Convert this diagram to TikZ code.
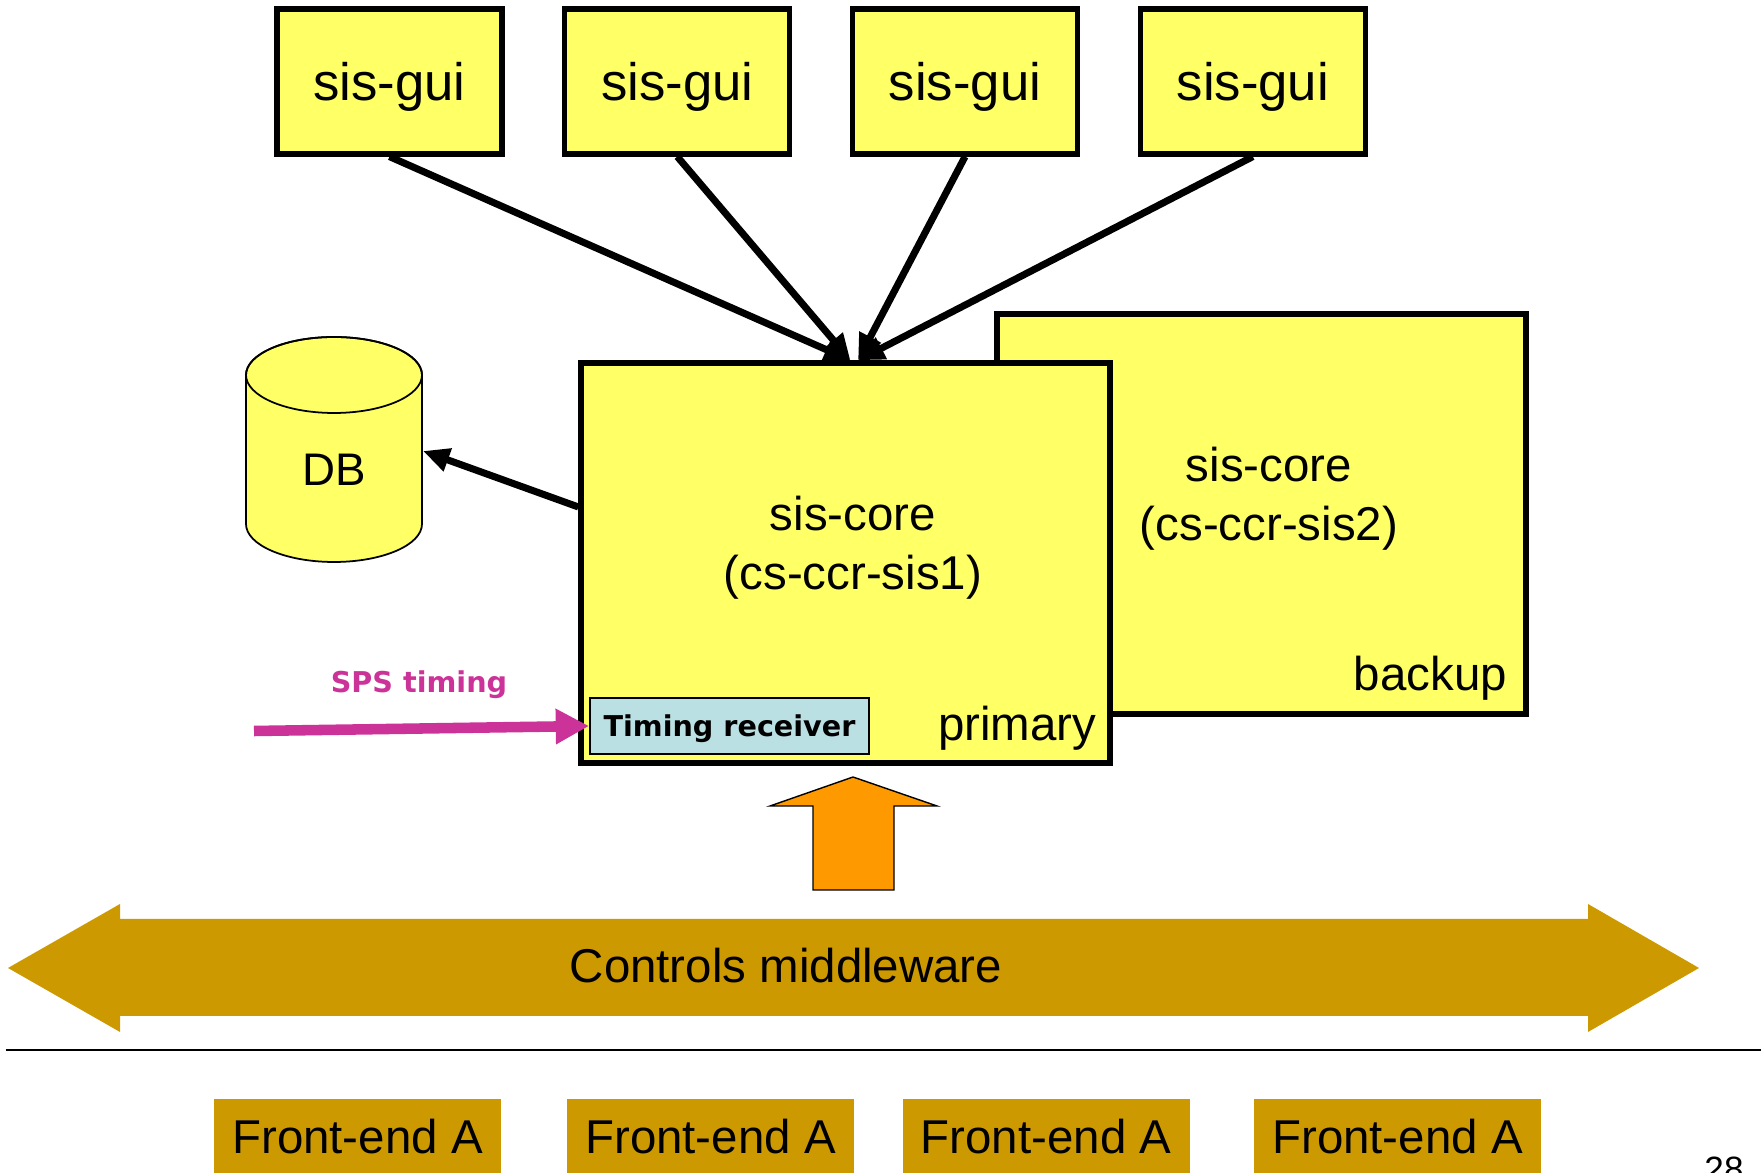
\documentclass[tikz,border=0pt]{standalone}
\usepackage{fontspec}
\setmainfont{Liberation Sans}
\newfontfamily\comicfont{DejaVu Sans}
\usetikzlibrary{positioning,calc,arrows.meta}
\definecolor{boxyellow}{RGB}{255,255,102}
\definecolor{rxblue}{RGB}{187,224,227}
\definecolor{upamber}{RGB}{255,153,0}
\definecolor{busgold}{RGB}{204,153,0}
\definecolor{spsmagenta}{RGB}{204,51,153}
\tikzset{
  gui/.style={draw,line width=3pt,fill=boxyellow,minimum width=4.5cm,minimum height=2.9cm,
    text depth=0pt,font=\fontsize{30}{36}\selectfont},
  core/.style={draw,line width=3pt,fill=boxyellow,minimum width=10.58cm,minimum height=8.0cm},
  coretext/.style={align=center,font=\fontsize{27}{33.5}\selectfont},
  frontend/.style={fill=busgold,minimum width=5.74cm,minimum height=1.5cm,
    font=\fontsize{27}{32}\selectfont},
  link/.style={line width=4pt,-{Triangle[length=15pt,width=13pt]}},
  comictext/.style={font=\comicfont\bfseries\fontsize{16.3}{20}\selectfont}
}
\begin{document}
\begin{tikzpicture}
    \useasboundingbox (0,0) rectangle (35.22,23.44);
    % GUI clients
    \node[gui] (gui1) at (7.79,21.81) {sis-gui};
    \node[gui,right=1.15cm of gui1] (gui2) {sis-gui};
    \node[gui,right=1.15cm of gui2] (gui3) {sis-gui};
    \node[gui,right=1.15cm of gui3] (gui4) {sis-gui};
    % Backup and primary servers
    \node[core] (core2) at (25.23,13.16) {};
    \node[coretext] (core2txt) at ($(core2)+(0.15,0.31)$) {sis-core\\(cs-ccr-sis2)};
    \node[anchor=base east,font=\fontsize{27}{32}\selectfont] (backuplbl) at ($(core2.south east)+(-0.31,0.52)$) {backup};
    \node[core] (core1) at (16.91,12.18) {};
    \node[coretext] (core1txt) at ($(core1)+(0.15,0.31)$) {sis-core\\(cs-ccr-sis1)};
    \node[anchor=base east,font=\fontsize{27}{32}\selectfont] (primarylbl) at ($(core1.south east)+(-0.2,0.5)$) {primary};
    \node[draw,line width=1pt,fill=rxblue,minimum width=5.58cm,minimum height=1.12cm,text depth=0pt,comictext] (timing) at (14.59,8.92) {Timing receiver};
    % GUI links
    \draw[link] (gui1.south) -- ([xshift=1mm]core1.north);
    \draw[link] (gui2.south) -- ([xshift=1mm]core1.north);
    \draw[link] (gui3.south) -- ([xshift=2.5mm]core1.north);
    \draw[link] (gui4.south) -- ([xshift=2.5mm]core1.north);
    % Database
    \draw[line width=1pt,fill=boxyellow] (4.92,15.94) -- (4.92,12.96)
        arc[start angle=180,end angle=360,x radius=1.76cm,y radius=0.76cm] -- (8.44,15.94)
        arc[start angle=0,end angle=180,x radius=1.76cm,y radius=0.76cm] -- cycle;
    \draw[line width=1pt] (6.68,15.94) ellipse[x radius=1.76cm,y radius=0.76cm];
    \node[font=\fontsize{26}{30}\selectfont] (db) at (6.68,14.04) {DB};
    \coordinate (dbside) at (8.46,14.42);
    \draw[link] ($(core1.west)+(0,1.12)$) -- (dbside);
    % SPS timing input
    \coordinate (spsstart) at (5.08,8.82);
    \draw[line width=6pt,spsmagenta,-{Triangle[length=19pt,width=19pt]}] (spsstart) -- (timing.west);
    \node[text=spsmagenta,comictext] (spslbl) at (8.38,9.74) {SPS timing};
    % Up arrow from middleware
    \draw[line width=0.8pt,fill=upamber] (16.26,5.64) -- (17.88,5.64) -- (17.88,7.32) -- (18.74,7.32)
        -- (17.06,7.9) -- (15.4,7.32) -- (16.26,7.32) -- cycle;
    % Middleware bus
    \fill[busgold] (0.16,4.08) -- (2.4,5.36) -- (2.4,5.06) -- (31.76,5.06) -- (31.76,5.36) -- (33.98,4.08)
        -- (31.76,2.8) -- (31.76,3.12) -- (2.4,3.12) -- (2.4,2.8) -- cycle;
    \node[font=\fontsize{27}{32}\selectfont] (mware) at (15.72,4.12) {Controls middleware};
    \draw[line width=1.1pt] (0.11,2.44) -- (35.22,2.44);
    % Front-ends
    \node[frontend] (fe1) at (7.15,0.71) {Front-end A};
    \node[frontend] (fe2) at (14.21,0.71) {Front-end A};
    \node[frontend] (fe3) at (20.92,0.71) {Front-end A};
    \node[frontend] (fe4) at (27.95,0.71) {Front-end A};
    \node[anchor=base,font=\fontsize{20}{24}\selectfont] (pagenum) at (34.48,-0.18) {28};
\end{tikzpicture}
\end{document}
